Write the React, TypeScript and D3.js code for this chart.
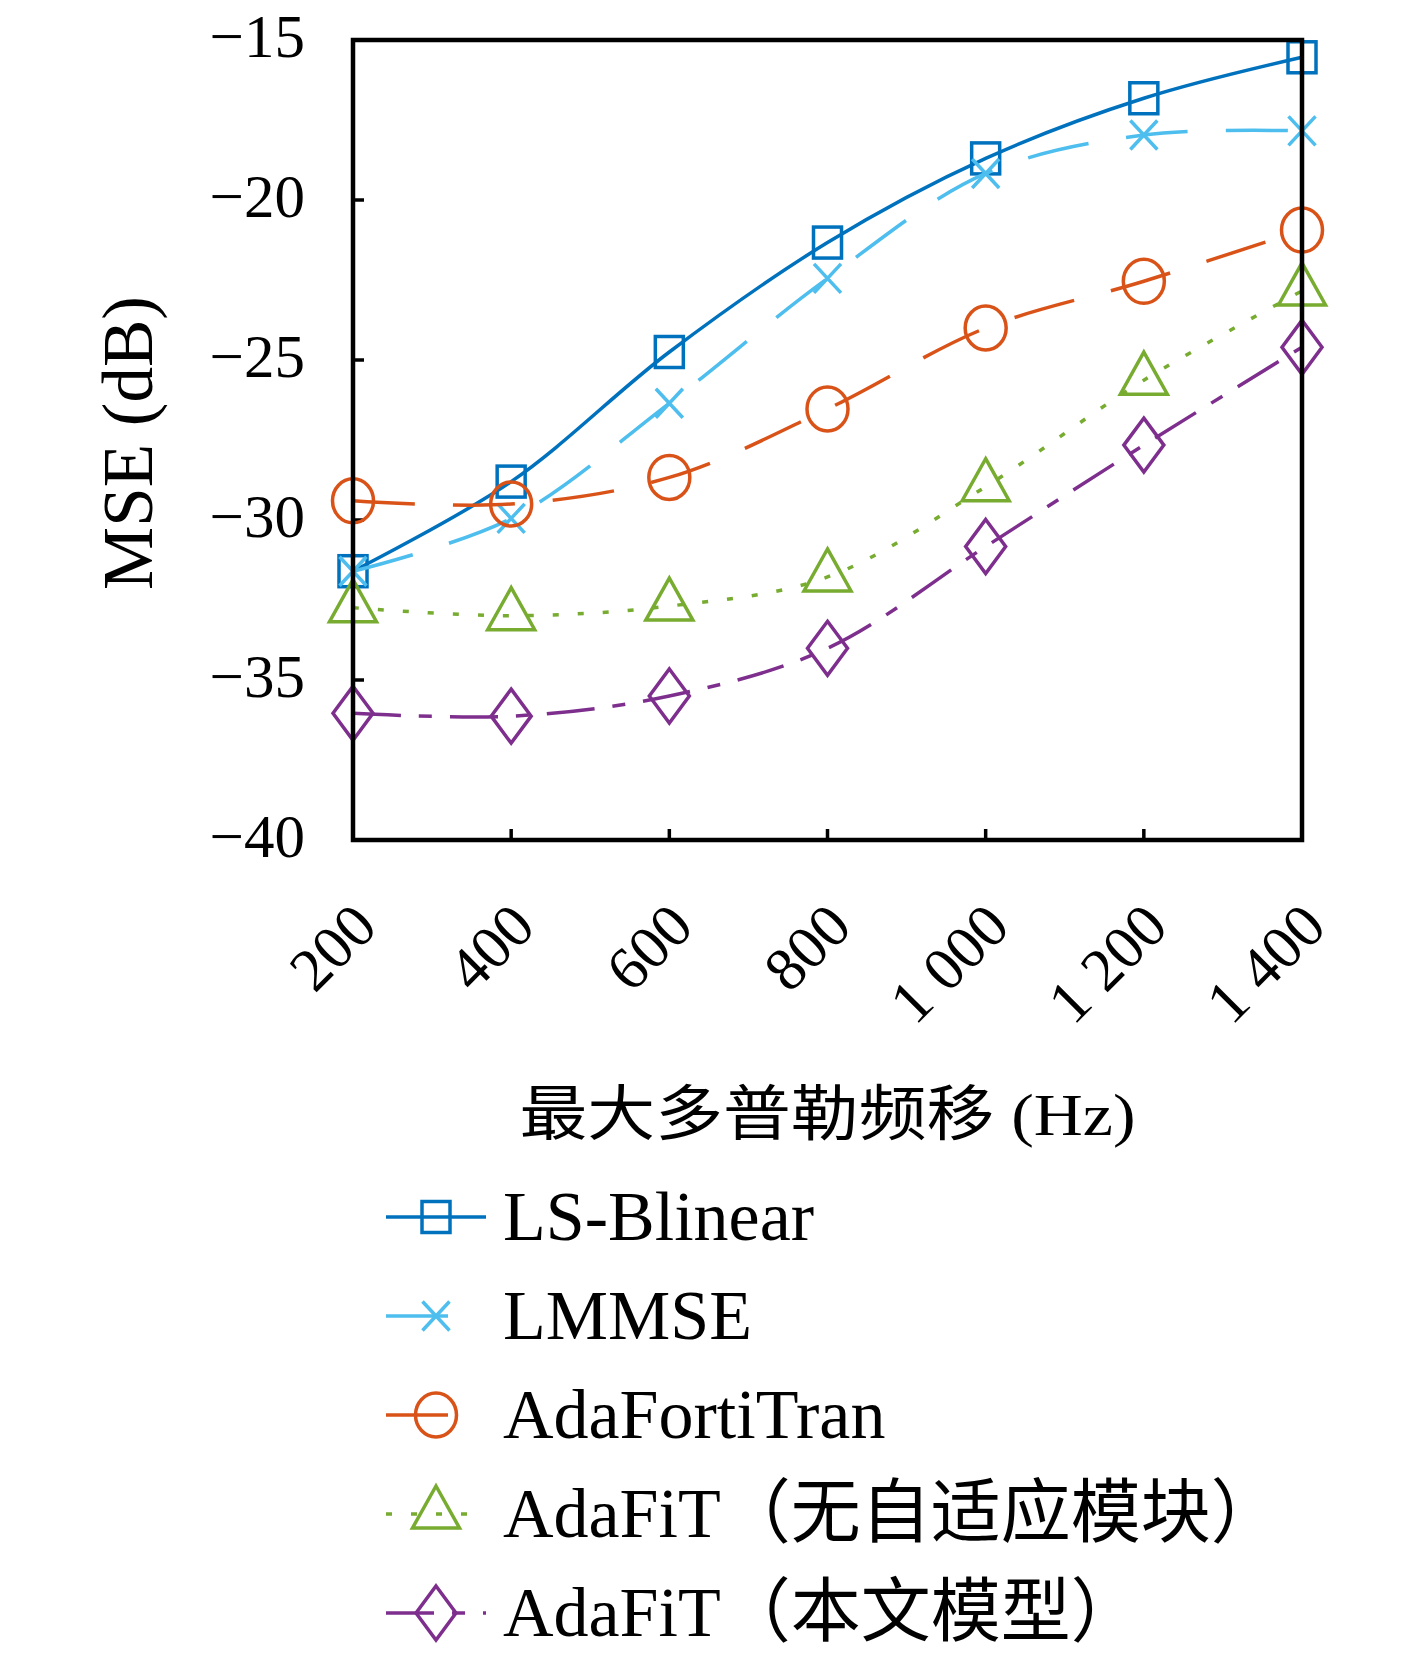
import * as d3 from 'd3'

const dopplerHz = [200, 400, 600, 800, 1000, 1200, 1400]
const xTickLabels = ['200', '400', '600', '800', '1 000', '1 200', '1 400']
const yTicks = [-40, -35, -30, -25, -20, -15]

const lsBlinear = [-31.6, -28.8, -24.75, -21.33, -18.7, -16.82, -15.54]
const lmmse = [-31.6, -29.95, -26.35, -22.45, -19.17, -17.97, -17.84]
const adaFortiTran = [-29.4, -29.5, -28.67, -26.53, -24.0, -22.54, -20.94]
const adaFitNoAdapt = [-32.74, -32.99, -32.69, -31.78, -28.96, -25.63, -22.84]
const adaFitOurs = [-36.04, -36.13, -35.5, -34.01, -30.83, -27.66, -24.6]

const seriesNames = [
  'LS-Blinear',
  'LMMSE',
  'AdaFortiTran',
  'AdaFiT（无自适应模块）',
  'AdaFiT（本文模型）',
]

type Marker = 'square' | 'x' | 'circle' | 'triangle' | 'diamond'

const series: { name: string; values: number[]; color: string; dash: string; marker: Marker }[] = [
  { name: seriesNames[0], values: lsBlinear, color: '#0072BD', dash: 'none', marker: 'square' },
  { name: seriesNames[1], values: lmmse, color: '#4DBEEE', dash: '62 38', marker: 'x' },
  { name: seriesNames[2], values: adaFortiTran, color: '#D95319', dash: '62 38', marker: 'circle' },
  { name: seriesNames[3], values: adaFitNoAdapt, color: '#77AC30', dash: '6 19', marker: 'triangle' },
  { name: seriesNames[4], values: adaFitOurs, color: '#7E2F8E', dash: '48 18 13 18', marker: 'diamond' },
]

const W = 1417
const H = 1658
const left = 353
const right = 1302
const top = 40
const bottom = 840

const serif = '"Liberation Serif", "Times New Roman", serif'
const mixed = '"Liberation Serif", "Noto Sans CJK SC", serif'
const lw = 3.5

function MarkerShape({ type, x, y, color }: { type: Marker; x: number; y: number; color: string }) {
  const common = { fill: 'none', stroke: color, strokeWidth: lw }
  if (type === 'square') return <rect x={x - 14} y={y - 15.5} width={28} height={31} {...common} />
  if (type === 'circle') return <ellipse cx={x} cy={y} rx={20.5} ry={22} {...common} />
  if (type === 'x')
    return <path d={`M${x - 13.5},${y - 14.5}L${x + 13.5},${y + 14.5}M${x - 13.5},${y + 14.5}L${x + 13.5},${y - 14.5}`} {...common} />
  if (type === 'triangle')
    return <path d={`M${x},${y - 28}L${x + 23.5},${y + 14}L${x - 23.5},${y + 14}Z`} {...common} />
  return <path d={`M${x},${y - 27}L${x + 20},${y}L${x},${y + 27}L${x - 20},${y}Z`} {...common} />
}

export default function App() {
  const x = d3.scaleLinear().domain([200, 1400]).range([left, right])
  const y = d3.scaleLinear().domain([-40, -15]).range([bottom, top])

  const line = d3
    .line<number>()
    .x((_, i) => x(dopplerHz[i]))
    .y(d => y(d))
    .curve(d3.curveCatmullRom.alpha(0.5))

  const legendX0 = 386
  const legendX1 = 486
  const legendY0 = 1217
  const legendStep = 99

  return (
    <svg width={W} height={H} style={{ position: 'absolute', left: 0, top: 0, background: '#fff' }}>
      {/* ticks */}
      {yTicks.map(t => (
        <g key={'y' + t}>
          <line x1={left} x2={left + 11} y1={y(t)} y2={y(t)} stroke="#000" strokeWidth={3.5} />
          <text x={305} y={y(t) + 17} textAnchor="end" fontFamily={serif} fontSize={61}>
            {'−' + Math.abs(t)}
          </text>
        </g>
      ))}
      {dopplerHz.map((v, i) => (
        <g key={'x' + v}>
          <line x1={x(v)} x2={x(v)} y1={bottom} y2={bottom - 11} stroke="#000" strokeWidth={3.5} />
          <text
            transform={`translate(${x(v) + 12},${915}) rotate(-45)`}
            textAnchor="end"
            dominantBaseline="central"
            fontFamily={serif}
            fontSize={61}
          >
            {xTickLabels[i]}
          </text>
        </g>
      ))}

      {/* series */}
      {series.map(s => (
        <g key={s.name}>
          <path d={line(s.values) ?? ''} fill="none" stroke={s.color} strokeWidth={lw} strokeDasharray={s.dash} />
          {s.values.map((v, i) => (
            <MarkerShape key={i} type={s.marker} x={x(dopplerHz[i])} y={y(v)} color={s.color} />
          ))}
        </g>
      ))}

      {/* box */}
      <rect x={left} y={top} width={right - left} height={bottom - top} fill="none" stroke="#000" strokeWidth={4.5} />

      {/* axis titles */}
      <text
        transform={`translate(128,${(top + bottom) / 2 + 3}) rotate(-90)`}
        textAnchor="middle"
        dominantBaseline="central"
        fontFamily={serif}
        fontSize={71}
      >
        MSE (dB)
      </text>
      <text
        x={(left + right) / 2}
        y={1135}
        textAnchor="middle"
        fontFamily={mixed}
        fontSize={60}
        textLength={616}
        lengthAdjust="spacingAndGlyphs"
      >
        最大多普勒频移 (Hz)
      </text>

      {/* legend */}
      {series.map((s, i) => {
        const ly = legendY0 + i * legendStep
        return (
          <g key={'lg' + s.name}>
            <line x1={legendX0} x2={legendX1} y1={ly} y2={ly} stroke={s.color} strokeWidth={lw} strokeDasharray={s.dash} />
            <MarkerShape type={s.marker} x={(legendX0 + legendX1) / 2} y={ly} color={s.color} />
            <text x={503} y={ly + 23} fontFamily={mixed} fontSize={70}>
              {s.name}
            </text>
          </g>
        )
      })}
    </svg>
  )
}
